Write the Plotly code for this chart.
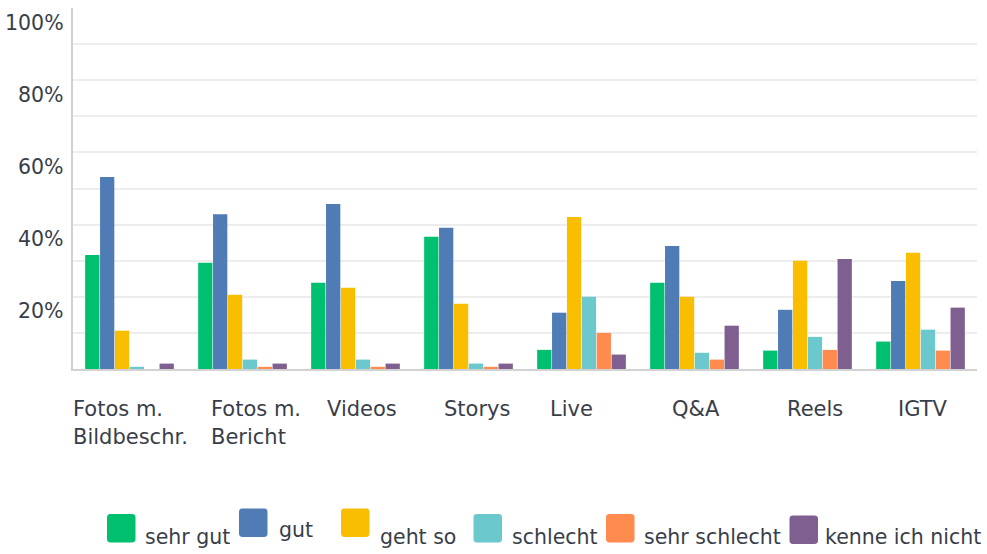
import plotly.graph_objects as go

categories = ["Fotos m.<br>Bildbeschr.", "Fotos m.<br>Bericht", "Videos", "Storys",
              "Live", "Q&A", "Reels", "IGTV"]
series_names = ["sehr gut", "gut", "geht so", "schlecht", "sehr schlecht", "kenne ich nicht"]
sehr_gut = [31.6, 29.4, 23.9, 36.6, 5.3, 23.9, 5.1, 7.6]
gut = [53.2, 42.9, 45.7, 39.1, 15.6, 34.1, 16.4, 24.4]
geht_so = [10.6, 20.6, 22.5, 18.1, 42.1, 20.0, 30.0, 32.2]
schlecht = [0.6, 2.6, 2.6, 1.5, 20.0, 4.5, 8.9, 10.9]
sehr_schlecht = [0.0, 0.6, 0.6, 0.6, 10.0, 2.6, 5.3, 5.1]
kenne_nicht = [1.5, 1.5, 1.5, 1.5, 4.0, 12.0, 30.5, 17.0]
y_tick_values = [20, 40, 60, 80, 100]
y_tick_labels = ["20%", "40%", "60%", "80%", "100%"]
grid_values = [10, 20, 30, 40, 50, 60, 70, 80, 90]

series_values = [sehr_gut, gut, geht_so, schlecht, sehr_schlecht, kenne_nicht]
colors = ["#00BF6F", "#507CB6", "#F9BE00", "#6BC8CD", "#FF8B4F", "#7F5F90"]

FONT = "DejaVu Sans"
TXT = "#383e49"
FS = 20.5
FSX = 21

W, H = 987, 554
ML, MR, MT, MB = 73, 10, 7.5, 184.5
PW, PH = W - ML - MR, H - MT - MB


def px2x(px):
    return (px - ML) / PW


def py2y(py):
    return (H - MB - py) / PH


fig = go.Figure()
idx = list(range(len(categories)))
for name, vals, col in zip(series_names, series_values, colors):
    fig.add_trace(go.Bar(x=idx, y=vals, name=name, marker=dict(color=col, line=dict(width=0)),
                         showlegend=False))

annotations = []
# y tick labels (placed below their gridlines as in the reference)
for v, lab in zip(y_tick_values, y_tick_labels):
    annotations.append(dict(x=0, xref="paper", y=v, yref="y", text=lab, showarrow=False,
                            xanchor="right", yanchor="middle", xshift=-7, yshift=-14.5,
                            font=dict(family=FONT, size=FS, color=TXT)))

# x category labels: left-aligned lines
label_start_px = [71, 209, 325, 442, 548, 670, 785, 896]
line_y_px = [410, 438]
for i, (cat, sx) in enumerate(zip(categories, label_start_px)):
    for j, line in enumerate(cat.split("<br>")):
        annotations.append(dict(x=px2x(sx), xref="paper", y=py2y(line_y_px[j]), yref="paper",
                                text=line, showarrow=False, xanchor="left", yanchor="middle",
                                font=dict(family=FONT, size=FSX, color=TXT)))

# custom legend
sw_x = [107, 239, 341, 473.5, 606, 789.5]
sw_top = [515, 509.5, 509.5, 515, 515, 516.5]
txt_x = [143, 276.5, 378, 510, 642, 822.5]
txt_y = [538, 531, 538, 538, 538, 538]
shapes = []
SW = 28.5
R = 3.5
for k, name in enumerate(series_names):
    x0, y0 = sw_x[k], sw_top[k]
    x1, y1 = x0 + SW, y0 + SW
    pts = (f"M {px2x(x0+R)},{py2y(y0)} L {px2x(x1-R)},{py2y(y0)} "
           f"Q {px2x(x1)},{py2y(y0)} {px2x(x1)},{py2y(y0+R)} "
           f"L {px2x(x1)},{py2y(y1-R)} Q {px2x(x1)},{py2y(y1)} {px2x(x1-R)},{py2y(y1)} "
           f"L {px2x(x0+R)},{py2y(y1)} Q {px2x(x0)},{py2y(y1)} {px2x(x0)},{py2y(y1-R)} "
           f"L {px2x(x0)},{py2y(y0+R)} Q {px2x(x0)},{py2y(y0)} {px2x(x0+R)},{py2y(y0)} Z")
    shapes.append(dict(type="path", xref="paper", yref="paper", path=pts,
                       fillcolor=colors[k], line=dict(width=0)))
    annotations.append(dict(x=px2x(txt_x[k]), xref="paper", y=py2y(txt_y[k]), yref="paper",
                            text=name, showarrow=False, xanchor="left", yanchor="middle",
                            font=dict(family=FONT, size=FS, color=TXT)))

fig.update_layout(
    width=W, height=H,
    margin=dict(l=ML, r=MR, t=MT, b=MB, pad=0),
    paper_bgcolor="white", plot_bgcolor="white",
    barmode="group", bargap=0.21, bargroupgap=0.04,
    annotations=annotations, shapes=shapes,
    font=dict(family=FONT, size=FS, color=TXT),
    xaxis=dict(range=[-0.5, len(categories) - 0.5], showticklabels=False, ticks="",
               showgrid=False, zeroline=False, showline=True, linecolor="#d2d2d2", linewidth=2),
    yaxis=dict(range=[0, 100], tickvals=grid_values, showticklabels=False, ticks="",
               showgrid=True, gridcolor="#ededed", gridwidth=2, zeroline=False,
               showline=True, linecolor="#d0d0d0", linewidth=1.5),
)

fig.write_html("out.html", config={"displayModeBar": False},
               post_script="document.body.style.margin='0';document.body.style.overflow='hidden';")
